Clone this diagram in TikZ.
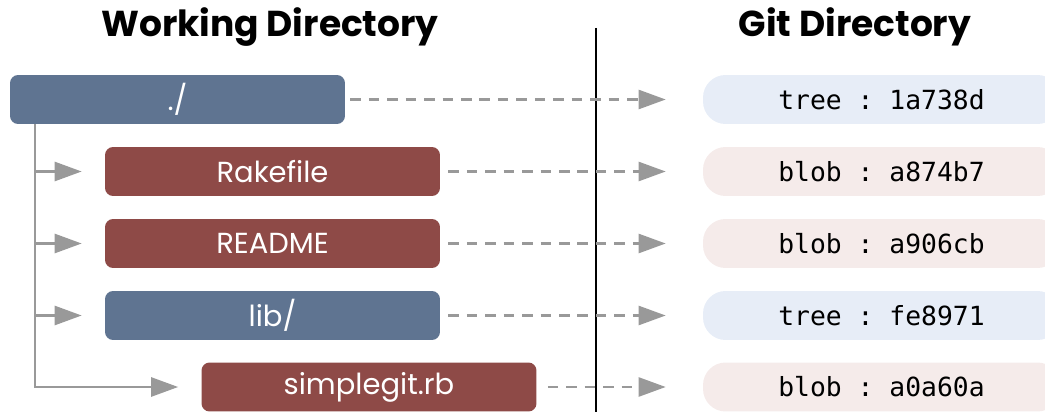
\documentclass[tikz,border=0pt]{standalone}
\usepackage{fontspec}
\setmainfont{Poppins}
\setmonofont{DejaVu Sans Mono}
\usetikzlibrary{arrows.meta}

\definecolor{dirblue}{HTML}{5F7491}
\definecolor{filered}{HTML}{8E4A47}
\definecolor{lightblue}{HTML}{E7EDF7}
\definecolor{lightred}{HTML}{F5EBEA}
\definecolor{linegray}{HTML}{999999}

\begin{document}
\begin{tikzpicture}[x=0.02cm, y=-0.02cm,
    wdir/.style={rounded corners=0.16cm, minimum width=6.7cm, minimum height=0.98cm,
        inner sep=0pt, text=white, font=\fontsize{16.5}{18}\selectfont},
    gobj/.style={rounded corners=0.45cm, minimum width=7.14cm, minimum height=0.98cm,
        inner sep=0pt, font=\ttfamily\fontsize{15}{17}\selectfont},
    head/.style={font=\bfseries\fontsize{20.5}{22}\selectfont},
    branch/.style={draw=linegray, line width=1.5pt, -{Triangle[length=0.54cm,width=0.38cm]}, shorten >=0.46cm},
    hashlink/.style={draw=linegray, line width=1.4pt, dash pattern=on 6pt off 4.5pt,
        -{Triangle[length=0.54cm,width=0.38cm]}, shorten >=0.74cm}]
    \useasboundingbox (0,0) rectangle (1045,412);
    \clip (0,0) rectangle (1045,412);

    \node (wdtitle) [head] at (270,27) {Working Directory};
    \node (gdtitle) [head] at (855,27) {Git Directory};
    \draw[line width=1.1pt] (596,28) -- (596,412);

    % working directory
    \node (root) [wdir, fill=dirblue] at (177.5,99.5) {./};
    \node (rake) [wdir, fill=filered] at (272.5,171.5) {Rakefile};
    \node (readme) [wdir, fill=filered] at (272.5,243.5) {README};
    \node (lib) [wdir, fill=dirblue] at (272.5,315.5) {lib/};
    \node (simple) [wdir, fill=filered] at (369,387) {simplegit.rb};

    % git directory
    \node (roottree) [gobj, fill=lightblue] at (881.5,99.5) {tree : 1a738d};
    \node (rakeblob) [gobj, fill=lightred] at (881.5,171.5) {blob : a874b7};
    \node (readmeblob) [gobj, fill=lightred] at (881.5,243.5) {blob : a906cb};
    \node (libtree) [gobj, fill=lightblue] at (881.5,315.5) {tree : fe8971};
    \node (simpleblob) [gobj, fill=lightred] at (881.5,387) {blob : a0a60a};

    \coordinate (trunk) at (35,124);
    \draw[draw=linegray, line width=1.5pt] (trunk) -- (35,388);
    \draw[branch] (trunk) |- (rake.west);
    \draw[branch] (trunk) |- (readme.west);
    \draw[branch] (trunk) |- (lib.west);
    \draw[branch] (trunk) |- (simple.west);

    \draw[hashlink, shorten <=0.1cm] (root) -- (roottree);
    \draw[hashlink, shorten <=0.16cm] (rake) -- (rakeblob);
    \draw[hashlink, shorten <=0.16cm] (readme) -- (readmeblob);
    \draw[hashlink, shorten <=0.16cm] (lib) -- (libtree);
    \draw[hashlink, shorten <=0.22cm] (simple) -- (simpleblob);
\end{tikzpicture}
\end{document}
